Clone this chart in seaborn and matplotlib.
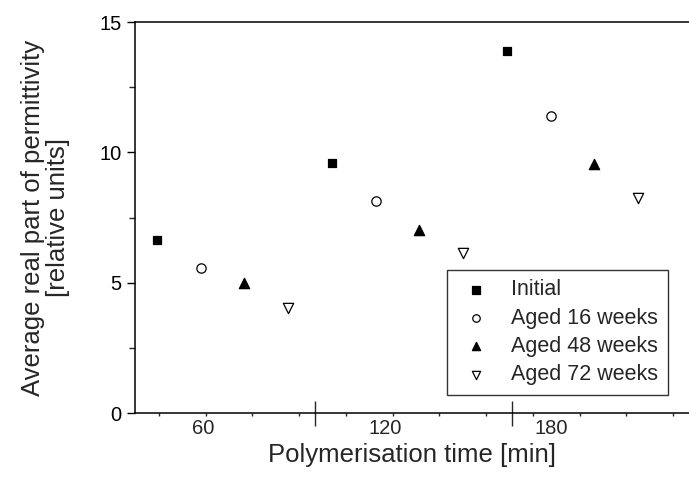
import numpy as np
import pandas as pd
import matplotlib
matplotlib.use("Agg")
import matplotlib.pyplot as plt
import seaborn as sns

# Values
times = ["60", "120", "180"]
series = ["Initial", "Aged 16 weeks", "Aged 48 weeks", "Aged 72 weeks"]
initial = [6.64, 9.58, 13.91]
aged_16 = [5.55, 8.13, 11.39]
aged_48 = [5.00, 7.01, 9.56]
aged_72 = [4.03, 6.16, 8.26]

values = [initial, aged_16, aged_48, aged_72]
rows = []
for si, name in enumerate(series):
    for ti, t in enumerate(times):
        rows.append({"series": name, "time": t,
                     "pos": ti + (si - 1.5) * 0.25,
                     "value": values[si][ti]})
df = pd.DataFrame(rows)

sns.set_style("ticks")
plt.rcParams['font.family'] = ['Liberation Sans', 'DejaVu Sans']

fig = plt.figure(figsize=(6.89, 4.82), dpi=100)
ax = fig.add_axes([0.196, 0.143, 0.804, 0.811])

styles = {
    "Initial": dict(marker="s", facecolor="black", s=40),
    "Aged 16 weeks": dict(marker="o", facecolor="white", s=45),
    "Aged 48 weeks": dict(marker="^", facecolor="black", s=55),
    "Aged 72 weeks": dict(marker="v", facecolor="white", s=55),
}
for name in series:
    st = styles[name]
    sns.scatterplot(data=df[df["series"] == name], x="pos", y="value", ax=ax,
                    marker=st["marker"], s=st["s"], color="black",
                    facecolor=st["facecolor"], edgecolor="black", linewidth=0.9,
                    label=name, zorder=3)

ax.set_xlim(-0.50, 2.665)
ax.set_ylim(0, 15)

# y axis ticks
ax.set_yticks([0, 5, 10, 15])
ax.set_yticks(np.arange(2.5, 15, 5), minor=True)
ax.tick_params(axis="y", which="major", direction="out", length=6, width=1,
               labelsize=14.5, colors="black")
ax.tick_params(axis="y", which="minor", direction="out", length=4, width=1)

# x axis: group boundary ticks and small minor ticks
ax.set_xticks([0.528, 1.654])
ax.set_xticklabels([])
ax.set_xticks(np.arange(-0.363, 2.66, 0.267), minor=True)
ax.tick_params(axis="x", which="major", direction="inout", length=18, width=1)
ax.tick_params(axis="x", which="minor", direction="out", length=2, width=1)

sec = ax.secondary_xaxis("bottom")
sec.set_xticks([-0.11, 0.93, 1.88])
sec.set_xticklabels(times)
sec.tick_params(length=0, labelsize=14.5, pad=4)
sec.spines["bottom"].set_visible(False)

for side in ["left", "bottom", "top"]:
    ax.spines[side].set_color("black")
    ax.spines[side].set_linewidth(1.1)
ax.spines["right"].set_visible(False)

ax.set_xlabel("")
sec.set_xlabel("Polymerisation time [min]", fontsize=18.5, labelpad=4)
ax.set_ylabel("Average real part of permittivity\n[relative units]",
              fontsize=18.5, linespacing=1.05, multialignment="center")
ax.yaxis.set_label_coords(-0.117, 0.5)

leg = ax.legend(loc="lower right", bbox_to_anchor=(0.962, 0.046), fontsize=15.5,
                frameon=True, fancybox=False, edgecolor="black",
                handletextpad=0.75, borderpad=0.45, labelspacing=0.34,
                handlelength=1.77, markerscale=0.8, borderaxespad=0)
leg.get_frame().set_linewidth(1.0)

fig.savefig("out.png", dpi=100)
